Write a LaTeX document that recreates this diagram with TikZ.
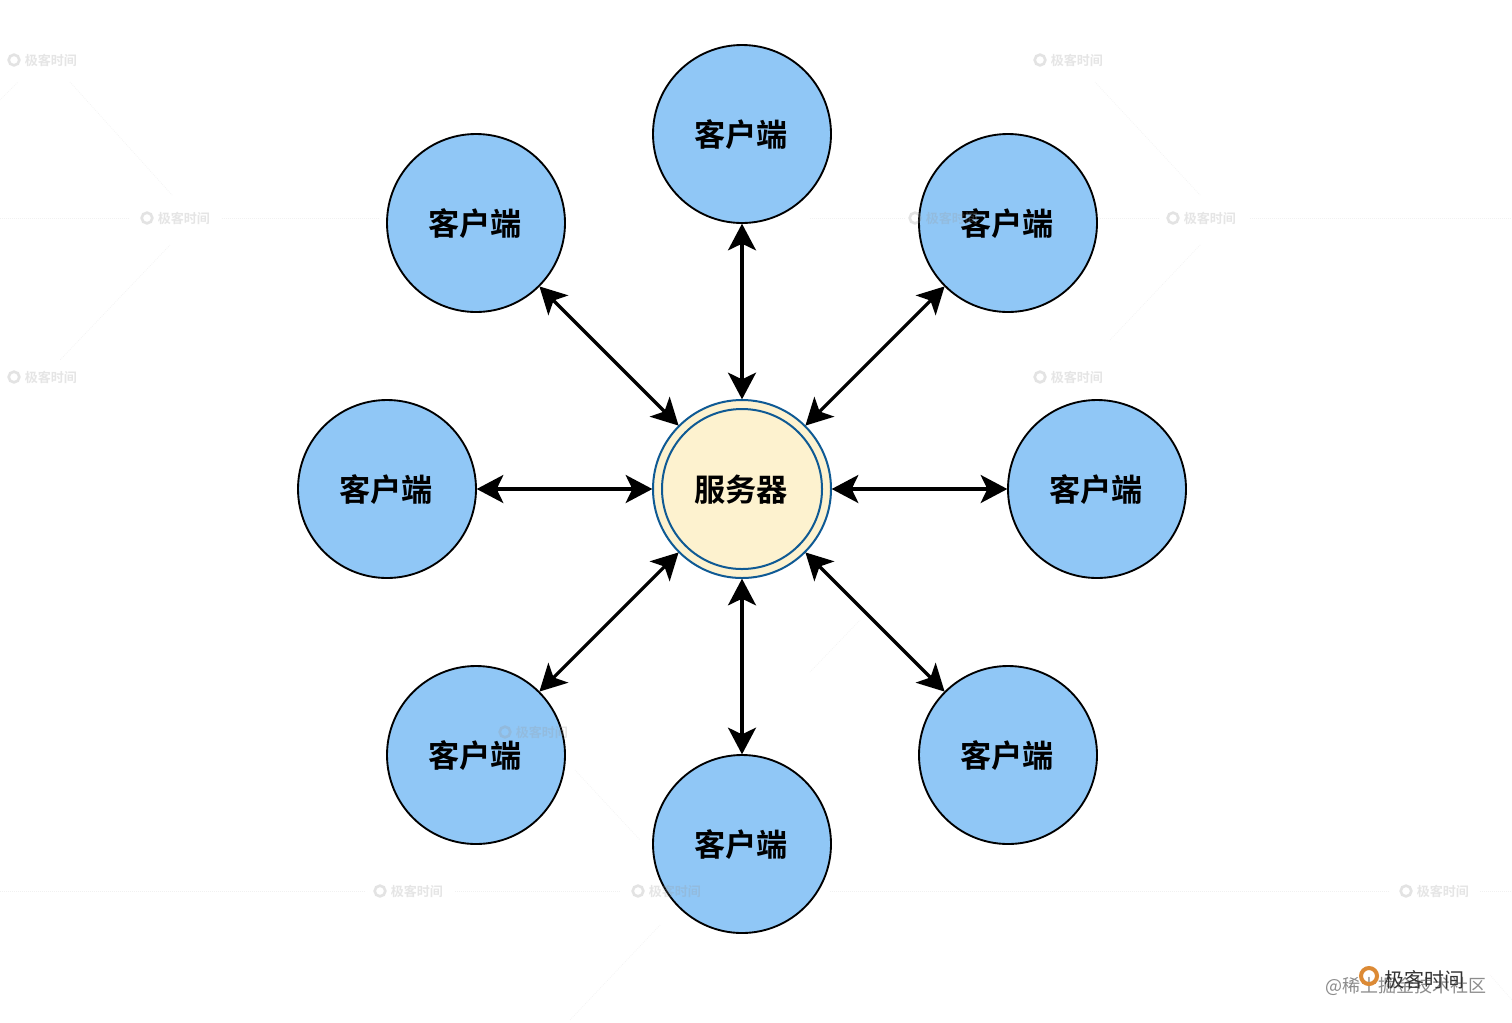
\documentclass[tikz,border=0pt]{standalone}
\usepackage{fontspec}
\setmainfont{Noto Sans CJK SC}
\newfontfamily\cjkbold{Noto Sans CJK SC Bold}
\usetikzlibrary{arrows.meta}
\definecolor{clientblue}{HTML}{90C7F6}
\definecolor{servercream}{HTML}{FDF2CF}
\definecolor{serverline}{HTML}{0F5A94}
\definecolor{wmgray}{HTML}{9A9A9A}
\definecolor{geekorange}{HTML}{DC8A35}
\tikzset{
  nudged/.style={text height=21.5pt,text depth=2.5pt,execute at begin node={\kern-1.6pt}},
  client/.style={circle,draw=black,line width=1.4pt,fill=clientblue,minimum size=133.5pt,inner sep=0pt,outer sep=0pt,font=\cjkbold\fontsize{23.4}{24}\selectfont,nudged},
  serverouter/.style={circle,draw=serverline,line width=1.5pt,fill=servercream,minimum size=133.5pt,inner sep=0pt,outer sep=0pt},
  serverinner/.style={circle,draw=serverline,line width=1.5pt,fill=servercream,minimum size=120pt,inner sep=0pt,outer sep=0pt,font=\cjkbold\fontsize{23.4}{24}\selectfont,nudged},
  link/.style={line width=2.4pt,black,{Stealth[length=20pt,width=21pt,inset=5pt]}-{Stealth[length=20pt,width=21pt,inset=5pt]},shorten <=0.5pt,shorten >=0.5pt},
  wmtext/.style={text=wmgray,text opacity=0.25,font=\cjkbold\fontsize{9.8}{10}\selectfont,inner sep=0pt},
  wmicon/.style={circle,draw=wmgray,draw opacity=0.27,line width=2pt,minimum size=8pt,inner sep=0pt},
  faint/.style={draw=wmgray,draw opacity=0.13,line width=0.5pt,densely dotted}
}
\newcommand{\wmark}[3]{%
  \node[wmicon] (#3i) at (#1,#2) {};
  \node[wmtext,anchor=west] (#3t) at (#1+10.5,#2) {极客时间};
}
\begin{document}
\begin{tikzpicture}[x=0.75pt,y=-0.75pt]
\path[use as bounding box,fill=white] (0,0) rectangle (1512,1022);
% faint background lines
\draw[faint] (0,218) -- (130,218) (222,218) -- (380,218) (810,218) -- (905,218) (1100,218) -- (1160,218) (1250,218) -- (1512,218);
\draw[faint] (0,891) -- (365,891) (455,891) -- (620,891) (830,891) -- (1390,891) (1480,891) -- (1512,891);
\draw[faint] (70,82) -- (172,195) (1095,82) -- (1200,195) (0,100) -- (18,82) (170,245) -- (60,360) (1200,245) -- (1110,340) (575,770) -- (640,840) (810,672) -- (860,620) (660,925) -- (570,1020) (1490,975) -- (1512,1000);
% clients and server
\node[client] (top) at (742,134) {客户端};
\node[client] (tl) at (476,223) {客户端};
\node[client] (tr) at (1008,223) {客户端};
\node[client] (left) at (387,489) {客户端};
\node[client] (right) at (1097,489) {客户端};
\node[client] (bl) at (476,755) {客户端};
\node[client] (br) at (1008,755) {客户端};
\node[client] (bottom) at (742,844) {客户端};
\node[serverouter] (srv) at (742,489) {};
\node[serverinner] (srvin) at (742,489) {服务器};
% connectors
\draw[link] (top) -- (srv);
\draw[link] (bottom) -- (srv);
\draw[link] (left) -- (srv);
\draw[link] (right) -- (srv);
\draw[link] (tl) -- (srv);
\draw[link] (tr) -- (srv);
\draw[link] (bl) -- (srv);
\draw[link] (br) -- (srv);
% watermarks
\wmark{14}{60}{a}
\wmark{1040}{60}{b}
\wmark{147}{218}{c}
\wmark{915}{218}{d}
\wmark{1173}{218}{e}
\wmark{14}{377}{f}
\wmark{1040}{377}{g}
\wmark{505}{732}{h}
\wmark{380}{891}{i}
\wmark{638}{891}{j}
\wmark{1406}{891}{k}
% bottom-right marks
\node[anchor=west,inner sep=0pt,text=black!45,font=\fontsize{13.5}{14}\selectfont] (juejin) at (1325,986) {@稀土掘金技术社区};
\node[circle,draw=geekorange,line width=3pt,minimum size=12pt,inner sep=0pt] (geekicon) at (1369,976) {};
\node[anchor=west,inner sep=0pt,text=black!80,font=\fontsize{15}{15}\selectfont] (geek) at (1384,980) {极客时间};
\end{tikzpicture}
\end{document}
